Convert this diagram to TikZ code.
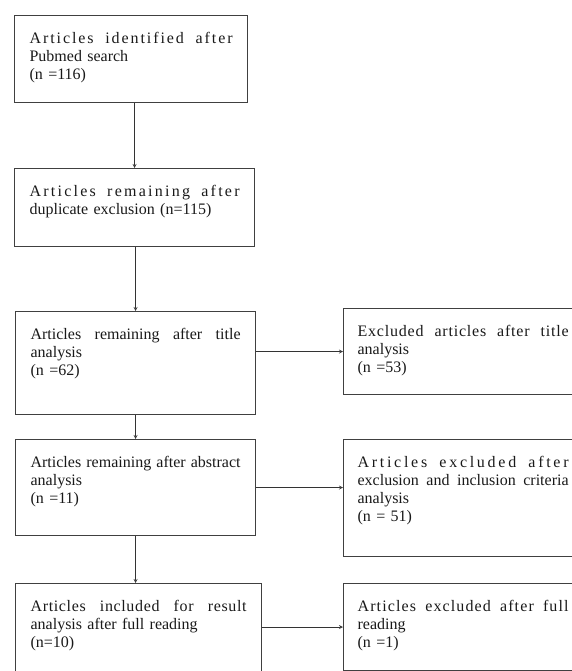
\documentclass[tikz,border=0pt]{standalone}
\usepackage{fontspec}
\setmainfont{Liberation Serif}
\usetikzlibrary{arrows,calc,positioning}

% #1 letter spacing, #2 line width, #3 text
\newcommand{\spreadline}[3]{\leavevmode\hbox to #2{\addfontfeatures{LetterSpace=#1}\spaceskip=0.25em plus 1fil\relax #3}}

\begin{document}
\begin{tikzpicture}[
	  x=1pt, y=-1pt,
	  >=stealth,
	  every node/.style={font=\fontsize{16pt}{17.8pt}\selectfont},
	  box/.style={
		  draw=black!75,
		  line width=1.2pt,
		  anchor=north west,
		  inner xsep=15pt,
		  inner ysep=0pt,
		  text height=28pt,
		  align=left,
		  text=black!90
	  },
	  link/.style={
		  ->,
		  draw=black!80,
		  line width=0.8pt
	  }
  ]
  \useasboundingbox (0,0) rectangle (572,671);

  % Boxes
  \node [
	  box,
	  text width=203pt,
	  text depth=59pt
  ] (identified) at (14,15) {\spreadline{12}{203pt}{Articles identified after}\\Pubmed search\\(n =116)};
  \node [
	  box,
	  text width=210pt,
	  text depth=50pt
  ] (duplicates) at (14,168) {\spreadline{14}{210pt}{Articles remaining after}\\duplicate exclusion (n=115)};
  \node [
	  box,
	  text width=210pt,
	  text depth=75pt
  ] (titles) at (15,311) {\spreadline{0}{210pt}{Articles remaining after title}\\analysis\\(n =62)};
  \node [
	  box,
	  text width=210pt,
	  text depth=68pt
  ] (abstracts) at (15,439) {\spreadline{0}{210pt}{Articles remaining after abstract}\\analysis\\(n =11)};
  \node [
	  box,
	  text width=216pt,
	  text depth=89pt
  ] (fullread) at (15,583) {\spreadline{4}{216pt}{Articles included for result}\\analysis after full reading\\(n=10)};

  \node [
	  box,
	  inner xsep=14pt,
	  text width=211pt,
	  text depth=58pt
  ] (titleexcl) at (343,308) {\spreadline{5}{211pt}{Excluded articles after title}\\analysis\\(n =53)};
  \node [
	  box,
	  inner xsep=14pt,
	  text width=211pt,
	  text depth=89pt
  ] (criteriaexcl) at (343,439) {\spreadline{17}{211pt}{Articles excluded after}\\\spreadline{0}{211pt}{exclusion and inclusion criteria}\\analysis\\(n = 51)};
  \node [
	  box,
	  inner xsep=14pt,
	  text width=211pt,
	  text depth=59pt
  ] (readexcl) at (343,583) {\spreadline{7}{211pt}{Articles excluded after full}\\reading\\(n =1)};

  % Connecting Arrows
  \draw[link] (identified.south -| duplicates.north) -- (duplicates.north);
  \draw[link] (duplicates.south -| titles.north) -- (titles.north);
  \draw[link] (titles.south) -- (abstracts.north);
  \draw[link] (abstracts.south) -- (abstracts.south |- fullread.north);
  \draw[link] (titles.east |- titleexcl.west) -- (titleexcl.west);
  \draw[link] (abstracts.east) -- (abstracts.east -| criteriaexcl.west);
  \draw[link] (fullread.east |- readexcl.west) -- (readexcl.west);

  \end{tikzpicture}
\end{document}
